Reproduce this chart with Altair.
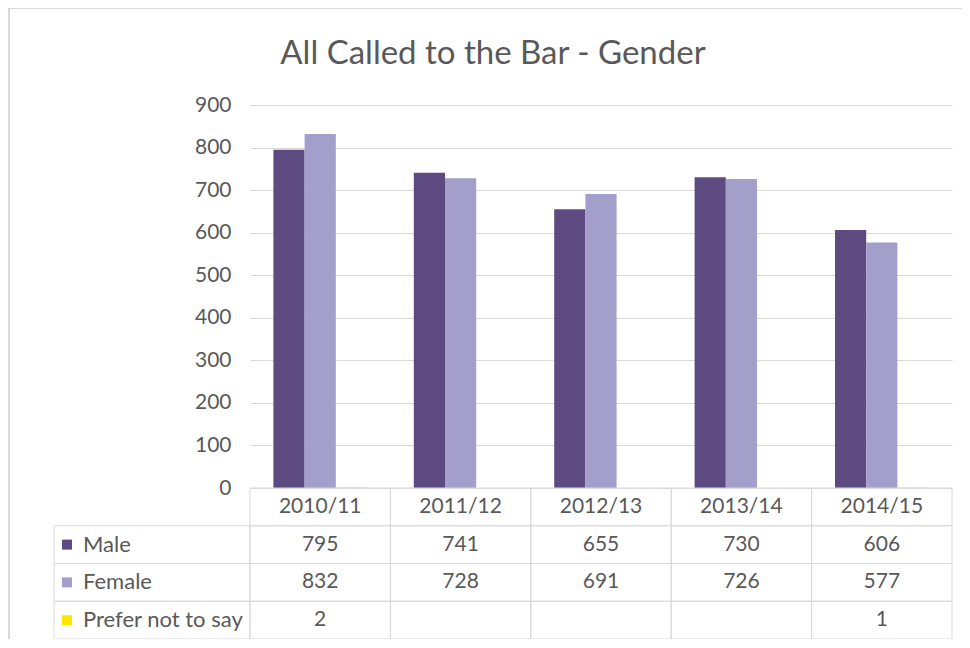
import altair as alt
import pandas as pd

# ---- data ----
years = ["2010/11", "2011/12", "2012/13", "2013/14", "2014/15"]
series = ["Male", "Female", "Prefer not to say"]
male = [795, 741, 655, 730, 606]
female = [832, 728, 691, 726, 577]
prefer = [2, None, None, None, 1]
colors = ["#5d4a80", "#a49fca", "#ffe600"]
y_ticks = [0, 100, 200, 300, 400, 500, 600, 700, 800, 900]
title_text = ["All Called to the Bar - Gender"]

records = []
for s, vals in zip(series, [male, female, prefer]):
    for yr, v in zip(years, vals):
        records.append({"year": yr, "series": s, "value": v, "row": s})
df = pd.DataFrame(records)

row_domain = ["header"] + series
cells = pd.DataFrame([{"year": yr, "row": r} for r in row_domain for yr in years])
headers = pd.DataFrame({"year": years, "row": ["header"] * len(years)})
labels = pd.DataFrame({"row": series, "series": series})

W, H_PLOT, H_TAB = 702, 383, 151
FONT = "Lato"
TXT = "#595959"
GRID = "#d9d9d9"
FS = 21

x_enc = alt.X("year:N", sort=years,
              scale=alt.Scale(domain=years, paddingInner=0, paddingOuter=0),
              axis=None)
color_scale = alt.Scale(domain=series, range=colors)
y_row = alt.Y("row:N", sort=row_domain,
              scale=alt.Scale(domain=row_domain, range=[H_PLOT, H_PLOT + H_TAB],
                              paddingInner=0, paddingOuter=0),
              axis=None)

bars = alt.Chart(df).transform_filter("isValid(datum.value)").mark_bar().encode(
    x=x_enc,
    xOffset=alt.XOffset("series:N", sort=series,
                        scale=alt.Scale(domain=series, paddingInner=0, paddingOuter=0.75)),
    y=alt.Y("value:Q",
            scale=alt.Scale(domain=[0, 900], range=[H_PLOT, 0], nice=False),
            axis=alt.Axis(values=y_ticks, title=None, grid=True, gridColor=GRID,
                          domain=False, ticks=False, labelPadding=19,
                          labelFontSize=FS, labelColor=TXT, labelFont=FONT)),
    color=alt.Color("series:N", scale=color_scale, legend=None),
)

cell_rects = alt.Chart(cells).mark_rect(fillOpacity=0, stroke=GRID, strokeWidth=1).encode(
    x=x_enc, y=y_row
)
label_rects = alt.Chart(labels).mark_rect(fillOpacity=0, stroke=GRID, strokeWidth=1).encode(
    x=alt.value(-196), x2=alt.value(0), y=y_row
)
header_text = alt.Chart(headers).mark_text(font=FONT, fontSize=FS, color=TXT).encode(
    x=x_enc, y=y_row, text="year:N"
)
value_text = alt.Chart(df).transform_filter("isValid(datum.value)").mark_text(
    font=FONT, fontSize=FS, color=TXT).encode(
    x=x_enc, y=y_row, text=alt.Text("value:Q", format="d")
)
label_text = alt.Chart(labels).mark_text(font=FONT, fontSize=FS + 1, color=TXT, align="left").encode(
    x=alt.value(-167), y=y_row, text="series:N"
)
squares = alt.Chart(labels).mark_square(size=100, opacity=1).encode(
    x=alt.value(-183), y=y_row,
    color=alt.Color("series:N", scale=color_scale, legend=None)
)

title = alt.Chart(pd.DataFrame({"t": title_text})).mark_text(
    font=FONT, fontSize=33, color=TXT, baseline="alphabetic", align="center").encode(
    x=alt.value(243), y=alt.value(-41), text="t:N"
)

frame_top = alt.Chart(pd.DataFrame({"a": [0]})).mark_rule(color=GRID, strokeWidth=2).encode(
    x=alt.value(-242), x2=alt.value(712), y=alt.value(-97)
)
frame_left = alt.Chart(pd.DataFrame({"a": [0]})).mark_rule(color=GRID, strokeWidth=2).encode(
    x=alt.value(-241), y=alt.value(-97), y2=alt.value(540)
)

chart = alt.layer(
    frame_top, frame_left, title, bars, cell_rects, label_rects,
    header_text, value_text, label_text, squares
).resolve_scale(y="independent").resolve_axis(y="independent").properties(
    width=W, height=H_PLOT + H_TAB,
    autosize=alt.AutoSizeParams(type="none"),
    padding={"left": 242, "top": 97, "right": 10, "bottom": 0},
    background="white",
).configure_view(stroke=None)

chart.save("out.html", embed_options={"renderer": "svg", "actions": False})
